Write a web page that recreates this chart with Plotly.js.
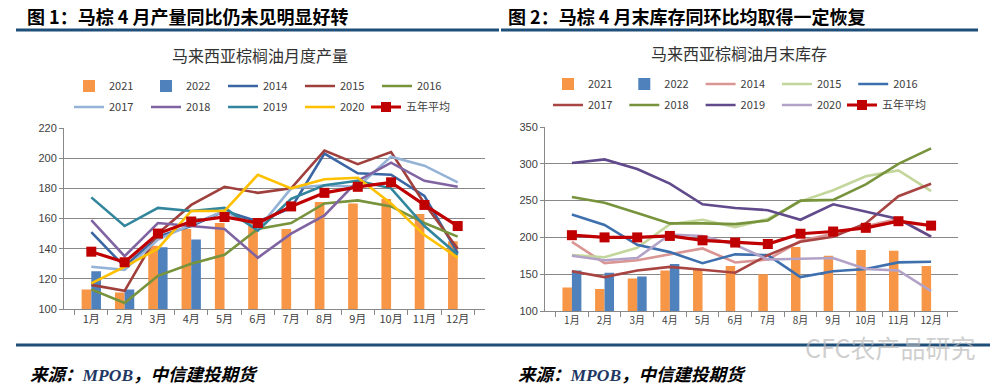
<!DOCTYPE html>
<html><head><meta charset="utf-8">
<script src="https://cdn.plot.ly/plotly-3.0.1.min.js"></script>
<style>html,body{margin:0;padding:0;background:#fff;}#chart{width:1000px;height:389px;}</style>
</head><body><div id="chart"></div>
<script>
const months = ['1月','2月','3月','4月','5月','6月','7月','8月','9月','10月','11月','12月'];
// Chart 1: production (10k t)
const prod2021 = [113,111,142,153,157,160,153,171,170,173,163,145];
const prod2022 = [125,113,141,146];
const prod2014 = [151,128,148,155,165,158,167,203,190,189,175,137];
const prod2015 = [116,112,150,169,181,177,180,205,196,204,170,140];
const prod2016 = [113,104,122,130,136,153,157,170,172,168,157,148];
const prod2017 = [128,126,146,156,165,153,180,182,181,201,195,184];
const prod2018 = [159,135,157,155,153,134,150,162,185,197,185,181];
const prod2019 = [174,155,167,165,167,152,173,182,185,180,155,136];
const prod2020 = [117,128,140,165,165,189,180,186,187,170,149,134];
const prodAvg  = [138,131,150,158,161,157,168,177,181,184,169,155];
// Chart 2: end-month stocks (10k t)
const st2021 = [132,130,144,155,157,161,150,187,175,183,182,161];
const st2022 = [155,152,147,164];
const st2014 = [194,165,169,177,185,166,170,195,205,214,225,201];
const st2015 = [176,173,186,218,224,214,225,249,264,283,291,263];
const st2016 = [231,217,190,180,165,177,176,146,154,157,166,167];
const st2017 = [154,146,155,160,156,152,176,194,201,219,256,273];
const st2018 = [255,247,233,219,219,218,223,250,251,272,300,321];
const st2019 = [301,306,293,273,245,240,237,224,245,235,225,201];
const st2020 = [175,169,172,204,202,190,170,171,172,157,155,127];
const stAvg  = [203,200,200,202,196,193,191,205,208,213,222,216];
const avgName = '五年平均';

const CJK = '"Noto Sans CJK SC", "Liberation Sans", sans-serif';
const LAT = '"Liberation Sans", "Noto Sans CJK SC", sans-serif';

function bar(name, y, color, xa, ya, lg){
  return {type:'bar', name:name, x:months.slice(0,y.length), y:y, marker:{color:color},
    xaxis:xa, yaxis:ya, legend:lg, hoverinfo:'skip'};
}
function line(name, y, color, xa, ya, lg){
  return {type:'scatter', mode:'lines', name:name, x:months, y:y, line:{color:color,width:2.6},
    xaxis:xa, yaxis:ya, legend:lg, hoverinfo:'skip'};
}
function avg(y, xa, ya, lg){
  return {type:'scatter', mode:'lines+markers', name:avgName, x:months, y:y,
    line:{color:'#C00000',width:3.2}, marker:{symbol:'square',size:10,color:'#C00000'},
    xaxis:xa, yaxis:ya, legend:lg, hoverinfo:'skip'};
}

const data = [
  bar('2021', prod2021, '#F79646','x','y','legend'),
  bar('2022', prod2022, '#4F81BD','x','y','legend'),
  line('2014', prod2014, '#3A66A4','x','y','legend'),
  line('2015', prod2015, '#A0403D','x','y','legend'),
  line('2016', prod2016, '#77933C','x','y','legend'),
  line('2017', prod2017, '#95B3D7','x','y','legend2'),
  line('2018', prod2018, '#8064A2','x','y','legend2'),
  line('2019', prod2019, '#31859C','x','y','legend2'),
  line('2020', prod2020, '#FFC000','x','y','legend2'),
  avg(prodAvg,'x','y','legend3'),

  bar('2021', st2021, '#F79646','x2','y2','legend4'),
  bar('2022', st2022, '#4F81BD','x2','y2','legend4'),
  line('2014', st2014, '#D99694','x2','y2','legend4'),
  line('2015', st2015, '#C3D69B','x2','y2','legend4'),
  line('2016', st2016, '#3F70AE','x2','y2','legend4'),
  line('2017', st2017, '#A84442','x2','y2','legend5'),
  line('2018', st2018, '#77933C','x2','y2','legend5'),
  line('2019', st2019, '#604A8B','x2','y2','legend5'),
  line('2020', st2020, '#B3A2C7','x2','y2','legend5'),
  avg(stAvg,'x2','y2','legend6')
];

const H = 389, W = 1000;
const py = v => 1 - v / H;
const px = v => v / W;

function xax(d, fs){
  return {type:'category', domain:d, showline:true, linecolor:'#888', linewidth:1,
    ticks:'outside', tickson:'boundaries', ticklen:5, tickcolor:'#888',
    showgrid:false, zeroline:false, tickfont:{family:CJK, size:fs, color:'#404040'}, fixedrange:true};
}
function yax(d, r, dt, xa){
  return {domain:d, range:r, dtick:dt, showline:true, linecolor:'#888', linewidth:1,
    ticks:'outside', ticklen:4, tickcolor:'#888', showgrid:true, gridcolor:'#888', gridwidth:1,
    zeroline:false, tickfont:{family:LAT, size:11, color:'#404040'}, anchor:xa, fixedrange:true};
}
function leg(x, y, ew){
  return {orientation:'h', x:px(x), xanchor:'left', y:py(y), yanchor:'middle',
    font:{family:CJK, size:11, color:'#404040'}, bgcolor:'rgba(0,0,0,0)',
    entrywidth:ew, entrywidthmode:'pixels', itemwidth:30, traceorder:'normal', tracegroupgap:0};
}
function legAuto(x, y){
  const l = leg(x, y, 0); delete l.entrywidth; delete l.entrywidthmode; return l;
}

const layout = {
  width:W, height:H, margin:{l:0,r:0,t:0,b:0}, paper_bgcolor:'#fff', plot_bgcolor:'#fff',
  barmode:'group', bargap:0.42, bargroupgap:0, showlegend:true,
  xaxis: Object.assign(xax([px(64),px(485)], 11), {anchor:'y'}),
  yaxis: yax([py(309),py(128)], [100,220], 20, 'x'),
  xaxis2: Object.assign(xax([px(545),px(958)], 10), {anchor:'y2'}),
  yaxis2: yax([py(311),py(127)], [100,350], 50, 'x2'),
  legend: leg(69, 86, 32), legend2: leg(69, 107, 32), legend3: legAuto(366, 107),
  legend4: leg(548, 84, 31.3), legend5: leg(548, 105, 31.3), legend6: legAuto(842, 105),
  shapes:[
    {type:'line', xref:'paper', yref:'paper', x0:px(16), x1:px(499), y0:py(30), y1:py(30), line:{color:'#1F4E79',width:3}},
    {type:'line', xref:'paper', yref:'paper', x0:px(501), x1:px(978), y0:py(30), y1:py(30), line:{color:'#1F4E79',width:3}},
    {type:'line', xref:'paper', yref:'paper', x0:px(16), x1:px(990), y0:py(345), y1:py(345), line:{color:'#1F4E79',width:3}}
  ],
  annotations:[
    {text:'<b>图 1：马棕 4 月产量同比仍未见明显好转</b>', xref:'paper', yref:'paper', x:px(188), y:py(16), xanchor:'center', yanchor:'middle', showarrow:false, font:{family:CJK, size:18, color:'#000'}},
    {text:'<b>图 2：马棕 4 月末库存同环比均取得一定恢复</b>', xref:'paper', yref:'paper', x:px(687), y:py(16), xanchor:'center', yanchor:'middle', showarrow:false, font:{family:CJK, size:18, color:'#000'}},
    {text:'马来西亚棕榈油月度产量', xref:'paper', yref:'paper', x:px(260), y:py(55), xanchor:'center', yanchor:'middle', showarrow:false, font:{family:CJK, size:16, color:'#333'}},
    {text:'马来西亚棕榈油月末库存', xref:'paper', yref:'paper', x:px(739), y:py(53), xanchor:'center', yanchor:'middle', showarrow:false, font:{family:CJK, size:16, color:'#333'}},
    {text:'<b><i>来源：<span style="font-family:Liberation Serif;color:#1F3864">MPOB</span>，中信建投期货</i></b>', xref:'paper', yref:'paper', x:px(144), y:py(373), xanchor:'center', yanchor:'middle', showarrow:false, font:{family:CJK, size:17.5, color:'#000'}},
    {text:'<b><i>来源：<span style="font-family:Liberation Serif;color:#1F3864">MPOB</span>，中信建投期货</i></b>', xref:'paper', yref:'paper', x:px(632), y:py(373), xanchor:'center', yanchor:'middle', showarrow:false, font:{family:CJK, size:17.5, color:'#000'}},
    {text:'CFC农产品研究', xref:'paper', yref:'paper', x:px(890), y:py(347), xanchor:'center', yanchor:'middle', showarrow:false, font:{family:CJK, size:25, color:'rgba(185,185,185,0.7)'}}
  ]
};

Plotly.newPlot('chart', data, layout, {staticPlot:true, displayModeBar:false});
</script></body></html>
